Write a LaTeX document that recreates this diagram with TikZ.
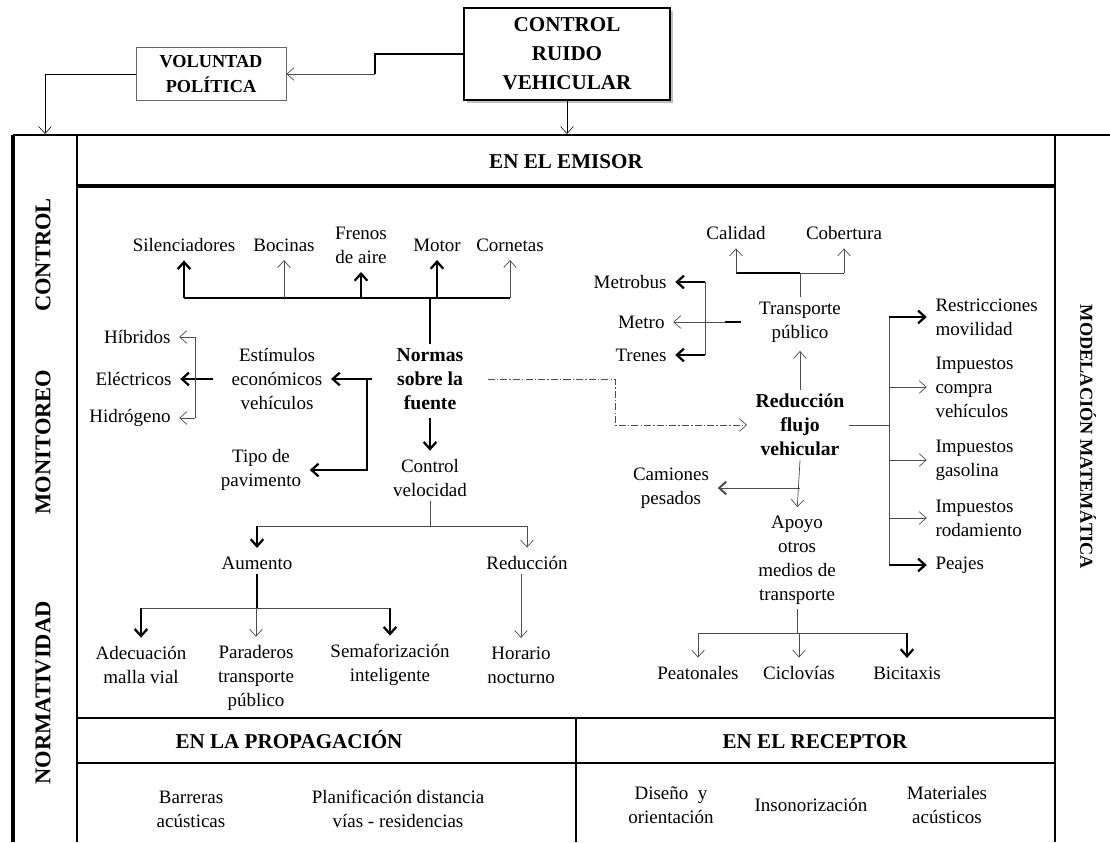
\documentclass[tikz,border=0pt]{standalone}
\usepackage{fontspec}
\setmainfont{Liberation Serif}
\usetikzlibrary{arrows.meta,shadows}
\begin{document}
\begin{tikzpicture}[x=0.025cm,y=-0.025cm,>={Straight Barb[length=5pt,width=9pt]}]
  \tikzset{tx/.style={font=\fontsize{13.5}{17}\selectfont,align=center,inner sep=3pt},
    bx/.style={font=\bfseries\fontsize{14}{17}\selectfont,align=center,inner sep=3pt},
    hd/.style={font=\bfseries\fontsize{15}{18}\selectfont,inner sep=0pt,anchor=base},
    lab/.style={font=\bfseries\fontsize{16}{18}\selectfont,inner sep=0pt},
    ln/.style={draw=black!70,line width=0.5pt},
    tk/.style={line width=1.6pt},
    fr/.style={line width=2pt},
    ar/.style={->,shorten >=3pt}}
  \useasboundingbox (0,0) rectangle (1110,842);
  \draw[line width=2.8pt] (13,135) -- (13,842);
  \draw[fr] (13,135) -- (1110,135);
  \draw[fr] (77,135) -- (77,842);
  \draw[fr] (1055,135) -- (1055,842);
  \draw[line width=2.6pt] (77,186) -- (1055,186);
  \draw[fr] (77,718) -- (1055,718);
  \draw[fr] (77,763) -- (1055,763);
  \draw[fr] (576,718) -- (576,842);
  \node[draw,line width=0.8pt,fill=white,drop shadow={shadow xshift=2pt,shadow yshift=-2pt,opacity=0.5},minimum width=5.15cm,minimum height=2.3cm,align=center,font=\bfseries\fontsize{15}{20.5}\selectfont] (crv) at (567,54) {CONTROL\\RUIDO\\VEHICULAR};
  \node[draw=black!60,line width=0.6pt,minimum width=3.75cm,minimum height=1.325cm,align=center,font=\bfseries\fontsize{13}{17.5}\selectfont] (vol) at (211,74) {VOLUNTAD\\POLÍTICA};
  \node[hd] (emi) at (566,168) {EN EL EMISOR};
  \node[hd] (pro) at (289,748) {EN LA PROPAGACIÓN};
  \node[hd] (rec) at (815,748) {EN EL RECEPTOR};
  \node[lab,rotate=90] (lco) at (43,255) {CONTROL};
  \node[lab,rotate=90] (lmo) at (43,442) {MONITOREO};
  \node[lab,rotate=90] (lno) at (43,693) {NORMATIVIDAD};
  \node[font=\bfseries\fontsize{13}{15}\selectfont,rotate=-90] (mod) at (1088,437) {MODELACIÓN MATEMÁTICA};
  \node[tx] (sil) at (184,245) {Silenciadores};
  \node[tx] (boc) at (284,245) {Bocinas};
  \node[tx] (fre) at (361,245) {Frenos\\de aire};
  \node[tx] (mot) at (437,245) {Motor};
  \node[tx] (cor) at (510,245) {Cornetas};
  \node[bx] (nor) at (430,379) {Normas\\sobre la\\fuente};
  \node[tx] (est) at (277,379) {Estímulos\\económicos\\vehículos};
  \node[tx,anchor=east] (hib) at (175,337) {Híbridos};
  \node[tx,anchor=east] (ele) at (176,379) {Eléctricos};
  \node[tx,anchor=east] (hid) at (175,418) {Hidrógeno};
  \node[tx] (pav) at (261,470) {Tipo de\\pavimento};
  \node[tx] (cve) at (430,478) {Control\\velocidad};
  \node[tx] (aum) at (257,563) {Aumento};
  \node[tx] (redu) at (527,563) {Reducción};
  \node[tx] (ade) at (141,665) {Adecuación\\malla vial};
  \node[tx] (par) at (256,678) {Paraderos\\transporte\\público};
  \node[tx] (sem) at (390,665) {Semaforización\\inteligente};
  \node[tx] (hor) at (521,665) {Horario\\nocturno};
  \node[bx] (rfv) at (800,425) {Reducción\\flujo\\vehicular};
  \node[tx] (tpu) at (800,322) {Transporte\\público};
  \node[tx] (cal) at (736,233) {Calidad};
  \node[tx] (cob) at (844,233) {Cobertura};
  \node[tx,anchor=east] (mbu) at (671,282) {Metrobus};
  \node[tx,anchor=east] (met) at (669,322) {Metro};
  \node[tx,anchor=east] (tre) at (671,355) {Trenes};
  \node[tx] (cam) at (671,488) {Camiones\\pesados};
  \node[tx] (apo) at (797,560) {Apoyo\\otros\\medios de\\transporte};
  \node[tx] (pea) at (698,673) {Peatonales};
  \node[tx] (cic) at (799,673) {Ciclovías};
  \node[tx] (bic) at (907,673) {Bicitaxis};
  \node[tx,anchor=west,align=left] (rmo) at (931,317) {Restricciones\\movilidad};
  \node[tx,anchor=west,align=left] (ico) at (931,387) {Impuestos\\compra\\vehículos};
  \node[tx,anchor=west,align=left] (iga) at (931,460) {Impuestos\\gasolina};
  \node[tx,anchor=west,align=left] (iro) at (931,518) {Impuestos\\rodamiento};
  \node[tx,anchor=west,align=left] (pej) at (931,565) {Peajes};
  \node[tx] (bar) at (191,809) {Barreras\\acústicas};
  \node[tx] (pla) at (398,809) {Planificación distancia\\vías - residencias};
  \node[tx] (dis) at (671,805) {Diseño\ \ y\\orientación};
  \node[tx] (ins) at (811,805) {Insonorización};
  \node[tx] (mat) at (947,805) {Materiales\\acústicos};
  \coordinate (kn) at (375,74);
  \coordinate (lcol) at (45,134);
  \coordinate (busA) at (0,298);
  \coordinate (busB) at (0,526);
  \coordinate (busC) at (0,608);
  \coordinate (busD) at (0,273);
  \coordinate (busG) at (0,633);
  \coordinate (jn) at (367,379);
  \coordinate (bk) at (195,379);
  \coordinate (bkR) at (705,322);
  \coordinate (dk) at (615,379);
  \coordinate (bkF) at (889,425);
  \draw[tk] (crv.west) -| (kn);
  \draw[ln,->] (kn) -- (vol.east);
  \draw[->] (vol.west) -| (lcol);
  \draw[->] (crv.south) -- (crv.south |- lcol);
  \draw[tk] (nor.north) -- (nor.north |- busA);
  \draw[tk] (sil.south |- busA) -- (cor.south |- busA);
  \draw[tk,ar] (sil.south |- busA) -- (sil.south);
  \draw[ln,ar] (boc.south |- busA) -- (boc.south);
  \draw[tk,ar] (fre.south |- busA) -- (fre.south);
  \draw[tk,ar] (mot.south |- busA) -- (mot.south);
  \draw[ln,ar] (cor.south |- busA) -- (cor.south);
  \draw[tk,ar,shorten <=3pt] (nor.south) -- (cve.north);
  \draw[tk,ar,shorten <=14pt] (nor.west) -- (est.east);
  \draw[tk,ar] (jn) |- (pav.east);
  \draw[tk,shorten <=10pt] (est.west) -- (bk);
  \draw[ln] (bk |- hib) -- (bk |- hid);
  \draw[ln,ar] (bk |- hib) -- (hib.east);
  \draw[tk,ar] (bk) -- (ele.east);
  \draw[ln,ar] (bk |- hid) -- (hid.east);
  \draw[ln] (cve.south) -- (cve.south |- busB);
  \draw[ln] (aum.north |- busB) -- (redu.north |- busB);
  \draw[tk,ar] (aum.north |- busB) -- (aum.north);
  \draw[ln,ar] (redu.north |- busB) -- (redu.north);
  \draw[tk] (aum.south) -- (aum.south |- busC);
  \draw[ln] (ade.north |- busC) -- (sem.north |- busC);
  \draw[tk,ar] (ade.north |- busC) -- (ade.north);
  \draw[ln,ar] (par.north |- busC) -- (par.north);
  \draw[tk,ar] (sem.north |- busC) -- (sem.north);
  \draw[ln,ar] (hor.north |- redu.south) -- (hor.north);
  \draw[ln,ar,dash pattern=on 5pt off 1.5pt on 1pt off 1.5pt,shorten <=14pt] (nor.east) -- (dk) |- (rfv.west);
  \draw[ln,ar] (rfv.north) -- (tpu.south);
  \draw[ln] (tpu.north) -- (tpu.north |- busD);
  \draw[tk] (cal.south |- busD) -- (tpu.north |- busD);
  \draw[ln] (tpu.north |- busD) -- (cob.south |- busD);
  \draw[ln,ar] (cal.south |- busD) -- (cal.south);
  \draw[ln,ar] (cob.south |- busD) -- (cob.south);
  \draw[ln] (bkR |- mbu) -- (bkR |- tre);
  \draw[tk,ar] (bkR |- mbu) -- (mbu.east);
  \draw[tk,ar] (bkR |- tre) -- (tre.east);
  \draw[ln,ar,shorten <=10pt] (tpu.west) -- (met.east);
  \draw[tk,shorten <=10pt] (tpu.west) -- ([xshift=14pt]bkR);
  \draw[ln,ar] (rfv.south) -- (apo.north);
  \draw[ln,-{Straight Barb[length=5pt,width=9pt,line width=1.4pt]},shorten >=3pt] (rfv.south |- cam) -- (cam.east);
  \draw[ln] (rfv.east) -- (bkF);
  \draw[ln] (bkF |- rmo) -- (bkF |- pej);
  \draw[tk,ar] (bkF |- rmo) -- (rmo.west);
  \draw[ln,ar] (bkF |- ico) -- (ico.west);
  \draw[ln,ar] (bkF |- iga) -- (iga.west);
  \draw[ln,ar] (bkF |- iro) -- (iro.west);
  \draw[tk,ar] (bkF |- pej) -- (pej.west);
  \draw[ln] (apo.south) -- (apo.south |- busG);
  \draw[ln] (pea.north |- busG) -- (bic.north |- busG);
  \draw[ln,ar] (pea.north |- busG) -- (pea.north);
  \draw[ln,ar] (cic.north |- busG) -- (cic.north);
  \draw[tk,ar] (bic.north |- busG) -- (bic.north);
\end{tikzpicture}
\end{document}
